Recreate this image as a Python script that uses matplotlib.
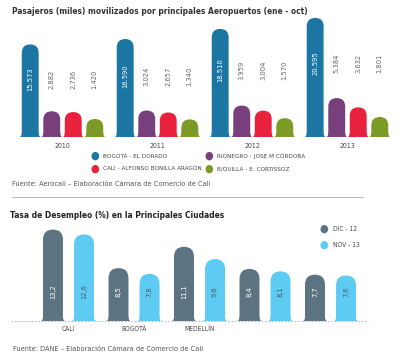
import matplotlib
matplotlib.use("Agg")
import matplotlib.pyplot as plt
from matplotlib.patches import FancyBboxPatch, PathPatch
from matplotlib.path import Path

plt.rcParams["font.family"] = ["DejaVu Sans"]
plt.rcParams["font.stretch"] = "condensed"

# --- data: passengers (thousands) by airport, Jan-Oct ---
years = ["2010", "2011", "2012", "2013"]
airports = ["BOGOTÁ - EL DORADO", "RIONEGRO - JOSÉ M CÓRDOBA",
            "CALI - ALFONSO BONILLA ARAGÓN", "B/QUILLA - E. CORTISSOZ"]
bogota = [15573, 16590, 18510, 20595]
rionegro = [2882, 3024, 3959, 5384]
cali = [2736, 2657, 3004, 3632]
barranquilla = [1420, 1340, 1570, 1801]
airport_colors = ["#1b76a3", "#773f7c", "#e8223d", "#7c9a26"]

# --- data: unemployment rate (%) ---
cities = ["CALI", "BOGOTÁ", "MEDELLÍN", "", ""]
periods = ["DIC - 12", "NOV - 13"]
dic_12 = [13.2, 8.5, 11.1, 8.4, 7.7]
nov_13 = [12.6, 7.8, 9.6, 8.1, 7.6]
period_colors = ["#5c7482", "#5dcbf2"]

W, H = 400, 360
fig = plt.figure(figsize=(W / 100, H / 100), dpi=100)
fig.patch.set_facecolor("white")


def fy(px):
    return 1 - px / H


def capsule_bars(ax, xs, heights, width, color, bottom):
    # rounded-top bars with a small flared foot
    bb = ax.get_window_extent()
    x0, x1 = ax.get_xlim()
    y0, y1 = ax.get_ylim()
    xpp = (x1 - x0) / bb.width
    ypp = (y1 - y0) / bb.height
    r = width / 2
    ext, fh = 2.5 * xpp, 4 * ypp
    for x, h in zip(xs, heights):
        low = bottom - (y1 - y0) * 0.3
        ax.add_patch(FancyBboxPatch((x - r, low), width, h - low,
                                    boxstyle=f"round,pad=0,rounding_size={r}",
                                    mutation_aspect=ypp / xpp, fc=color, ec="none"))
        verts = [(x - r - ext, bottom), (x - r, bottom), (x - r, bottom + fh),
                 (x + r, bottom + fh), (x + r, bottom), (x + r + ext, bottom),
                 (x - r - ext, bottom)]
        codes = [Path.MOVETO, Path.CURVE3, Path.CURVE3, Path.LINETO,
                 Path.CURVE3, Path.CURVE3, Path.CLOSEPOLY]
        ax.add_patch(PathPatch(Path(verts, codes), fc=color, ec="none"))


def fmt_thousands(v):
    return f"{v:,}".replace(",", ".")


# ---------------- top chart ----------------
ax1 = fig.add_axes([0, fy(137), 1, 125 / H])
ax1.set_xlim(-0.658, 3.553)
ax1.set_ylim(-2000, 21720)
ax1.axis("off")
series = [bogota, rionegro, cali, barranquilla]
offsets = [-0.34, -0.113, 0.113, 0.34]
bw = 0.178
gx = list(range(len(years)))
ax1.axhline(-2000, color="#cccccc", lw=0.8, ls=(0, (1, 1.5)), xmin=0.03)
for s, off, col in zip(series, offsets, airport_colors):
    capsule_bars(ax1, [g + off for g in gx], s, bw, col, -2000)
for g in gx:
    ylab = -2000 + 0.62 * (bogota[g] + 2000)
    for i, (s, off) in enumerate(zip(series, offsets)):
        white = i == 0
        ax1.text(g + off, ylab, fmt_thousands(s[g]), rotation=90,
                 ha="center", va="center", fontsize=5.4,
                 color="white" if white else "#666666")
    ax1.annotate(years[g], (g, -2000), xytext=(0, -6.5), textcoords="offset points",
                 ha="center", va="center", fontsize=5, color="#444444")

fig.text(12 / W, fy(12), "Pasajeros (miles) movilizados por principales Aeropuertos (ene - oct)",
         fontsize=6.0, fontweight="bold", color="#333333", va="center")

leg_pos = [(95, 156), (209, 156), (95, 169), (209, 169)]
for (lx, ly), name, col in zip(leg_pos, airports, airport_colors):
    fig.text(lx / W, fy(ly), "●", color=col, fontsize=8, ha="center", va="center")
    fig.text((lx + 8) / W, fy(ly), name, fontsize=4.6, color="#444444", va="center")

fig.text(12 / W, fy(184), "Fuente: Aerocali – Elaboración Cámara de Comercio de Cali",
         fontsize=5.3, color="#555555", va="center")
fig.add_artist(plt.Line2D([12 / W, 363 / W], [fy(197), fy(197)], color="#bbbbbb", lw=0.8))

# ---------------- bottom chart ----------------
ax2 = fig.add_axes([0, fy(321), 1, 99 / H])
ax2.set_xlim(-1.046, 5.061)
ax2.set_ylim(2.05, 14.12)
ax2.axis("off")
cx = list(range(len(cities)))
bw2 = 0.305
off2 = 0.237
ax2.plot([-0.88, 4.57], [2.05, 2.05], color="#bbbbbb", lw=0.8, ls=(0, (1.5, 1.5)),
         clip_on=False)
for s, off, col in zip([dic_12, nov_13], [-off2, off2], period_colors):
    capsule_bars(ax2, [c + off for c in cx], s, bw2, col, 2.05)
for c in cx:
    for s, off, tc in zip([dic_12, nov_13], [-off2, off2], ["white", "#4a5a64"]):
        ax2.text(c + off, 5.6, f"{s[c]:.1f}".replace(".", ","), rotation=90,
                 ha="center", va="center", fontsize=5.4, color=tc)
    ax2.annotate(cities[c], (c, 2.05), xytext=(0, -5.5), textcoords="offset points",
                 ha="center", va="center", fontsize=4.8, color="#444444")

fig.text(10 / W, fy(215), "Tasa de Desempleo (%) en la Principales Ciudades",
         fontsize=6.0, fontweight="bold", color="#222222", va="center")
for (lx, ly), name, col in zip([(324, 229), (324, 245)], periods, period_colors):
    fig.text(lx / W, fy(ly), "●", color=col, fontsize=8, ha="center", va="center")
    fig.text((lx + 9) / W, fy(ly), name, fontsize=4.8, color="#444444", va="center")

fig.text(13 / W, fy(349), "Fuente: DANE – Elaboración Cámara de Comercio de Cali",
         fontsize=5.3, color="#555555", va="center")

fig.savefig("out.png", dpi=100, facecolor="white")
